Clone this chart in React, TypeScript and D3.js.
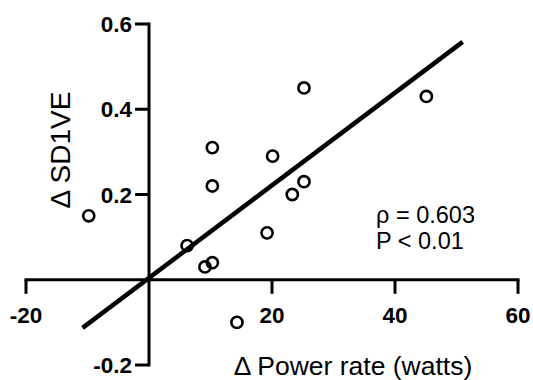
import React from "react";
import * as d3 from "d3";

const powerRate = [-9.8, 6.2, 9.1, 10.3, 10.3, 10.3, 14.3, 19.2, 20.1, 23.3, 25.2, 25.2, 45.1];
const sd1ve = [0.15, 0.08, 0.03, 0.04, 0.31, 0.22, -0.1, 0.11, 0.29, 0.2, 0.23, 0.45, 0.43];
const fitX = [-10.8, 51.0];
const fitY = [-0.113, 0.558];
const xTicks = [-20, 0, 20, 40, 60];
const xTickLabels = ["-20", "", "20", "40", "60"];
const yTicks = [-0.2, 0, 0.2, 0.4, 0.6];
const yTickLabels = ["-0.2", "", "0.2", "0.4", "0.6"];
const statLines = ["ρ = 0.603", "P < 0.01"];
const xTitle = "Δ Power rate (watts)";
const yTitle = "Δ SD1VE";

export default function App() {
  const W = 533, H = 380;
  const x = d3.scaleLinear().domain([-20, 60]).range([26, 518]);
  const y = d3.scaleLinear().domain([-0.2, 0.6]).range([365, 24]);
  const x0 = x(0), y0 = y(0);
  const font = "'Liberation Sans', Arial, Helvetica, sans-serif";
  const line = d3.line<number>().x((_, i) => x(fitX[i])).y((_, i) => y(fitY[i]));
  return (
    <svg width={W} height={H} style={{ position: "absolute", left: 0, top: 0, background: "#fff" }} fontFamily={font}>
      {/* x axis */}
      <line x1={x(-20)} x2={x(60)} y1={y0} y2={y0} stroke="#000" strokeWidth={3} strokeLinecap="square" />
      {xTicks.map((t, i) =>
        t === 0 ? null : (
          <g key={"xt" + i}>
            <line x1={x(t)} x2={x(t)} y1={y0} y2={y0 + 14} stroke="#000" strokeWidth={3} />
            <text x={x(t)} y={323} textAnchor="middle" fontSize={22.5} fontWeight="bold">{xTickLabels[i]}</text>
          </g>
        )
      )}
      {/* y axis */}
      <line x1={x0} x2={x0} y1={y(0.6)} y2={y(-0.2)} stroke="#000" strokeWidth={3} strokeLinecap="square" />
      {yTicks.map((t, i) =>
        t === 0 ? null : (
          <g key={"yt" + i}>
            <line x1={x0 - 14} x2={x0} y1={y(t)} y2={y(t)} stroke="#000" strokeWidth={3} />
            <text x={132} y={y(t)} dy="0.36em" textAnchor="end" fontSize={22.5} fontWeight="bold">{yTickLabels[i]}</text>
          </g>
        )
      )}
      {/* regression line */}
      <path d={line(fitX) || ""} fill="none" stroke="#000" strokeWidth={4.5} />
      {/* points */}
      {powerRate.map((v, i) => (
        <circle key={"p" + i} cx={x(v)} cy={y(sd1ve[i])} r={5.6} fill="none" stroke="#000" strokeWidth={2.6} />
      ))}
      {/* titles */}
      <text x={353} y={375} textAnchor="middle" fontSize={26.5}>{xTitle}</text>
      <text transform={`translate(70,150) rotate(-90)`} textAnchor="middle" fontSize={28}>{yTitle}</text>
      {statLines.map((s, i) => (
        <text key={"s" + i} x={376} y={223 + i * 26} fontSize={23.5}>{s}</text>
      ))}
    </svg>
  );
}
